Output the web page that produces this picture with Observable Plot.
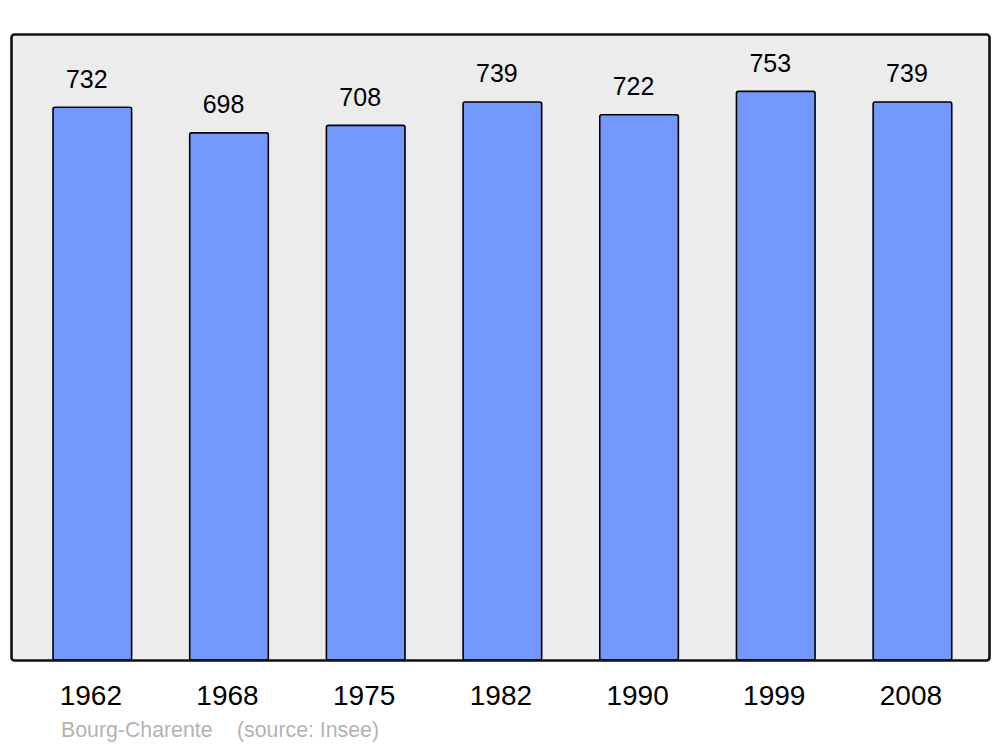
<!DOCTYPE html>
<html>
<head>
<meta charset="utf-8">
<script src="https://cdn.jsdelivr.net/npm/d3@7"></script>
<script src="https://cdn.jsdelivr.net/npm/@observablehq/plot@0.6"></script>
<style>
  html, body { margin: 0; padding: 0; background: #fff; }
  #wrap { position: relative; width: 1000px; height: 747px; font-family: "Liberation Sans", Arial, sans-serif; }
  .cap { position: absolute; top: 718px; font-size: 21.3px; line-height: 24px; color: #b3b3b3; white-space: pre; }
</style>
</head>
<body>
<div id="wrap">
  <div id="chart"></div>
  <div class="cap" style="left:61px">Bourg-Charente</div>
  <div class="cap" style="left:237px">(source: Insee)</div>
</div>
<script>
const years = ["1962", "1968", "1975", "1982", "1990", "1999", "2008"];
const population = [732, 698, 708, 739, 722, 753, 739];

const data = years.map((y, i) => ({year: y, pop: population[i]}));

const chart = Plot.plot({
  width: 1000,
  height: 712,
  marginTop: 34,
  marginBottom: 52,
  marginLeft: 11,
  marginRight: 11,
  style: {fontFamily: "'Liberation Sans', Arial, sans-serif", background: "transparent"},
  x: {domain: years, paddingInner: 0.425, paddingOuter: 0.29, align: 0.53, round: false, label: null},
  y: {domain: [0, 829], axis: null},
  marks: [
    Plot.frame({fill: "#ececec", stroke: "none", rx: 3}),
    Plot.barY(data, {x: "year", y: "pop", fill: "#7399ff", stroke: "black", strokeWidth: 1.6, rx: 2}),
    Plot.text(data, {x: "year", y: "pop", text: d => String(d.pop), dx: -6, dy: -28, lineAnchor: "middle", fontSize: 25, fill: "black"}),
    Plot.frame({fill: "none", stroke: "#111", strokeWidth: 2.6, rx: 3}),
    Plot.axisX({tickSize: 0, tickPadding: 25, fontSize: 28, dx: -2, label: null, color: "black"})
  ]
});
document.getElementById("chart").appendChild(chart);
</script>
</body>
</html>
